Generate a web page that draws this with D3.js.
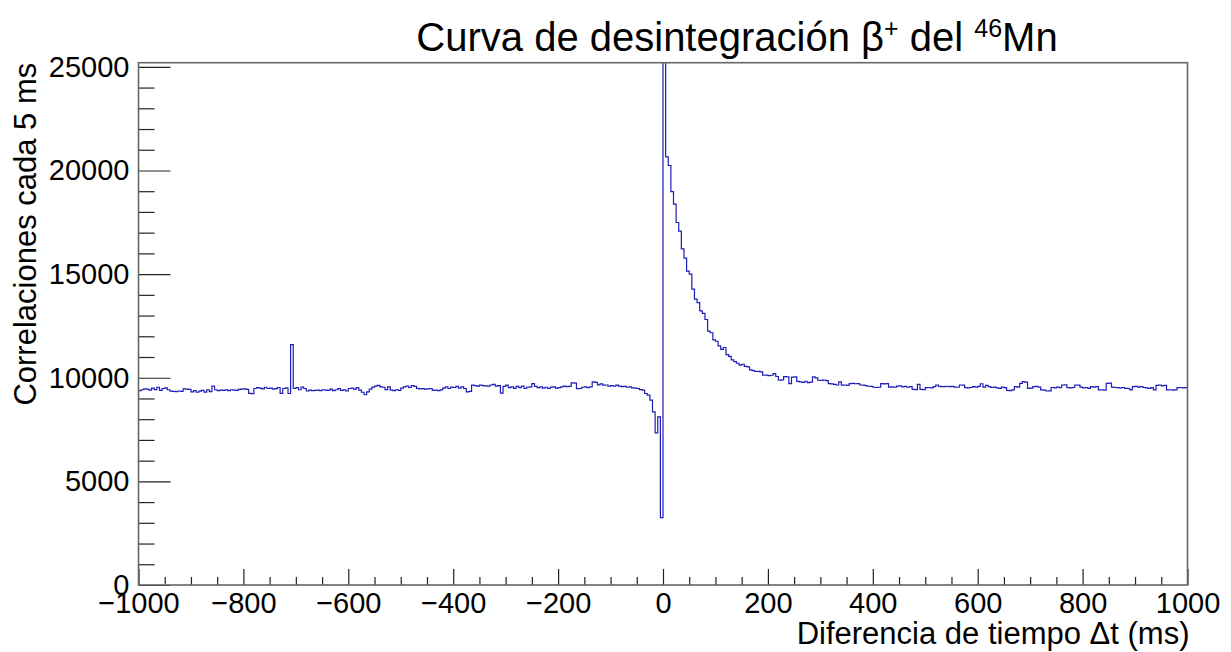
<!DOCTYPE html>
<html>
<head>
<meta charset="utf-8">
<script src="https://cdn.jsdelivr.net/npm/d3@7"></script>
<style>
  body { margin: 0; background: #fff; }
  svg { display: block; font-family: "Liberation Sans", Arial, sans-serif; }
  .axis text { font-size: 29px; fill: #000; }
  .axis path { display: none; }
  .axis line { stroke: #222; stroke-width: 1.2; }
  .label { font-size: 31px; fill: #000; }
</style>
</head>
<body>
<svg id="chart" width="1231" height="652"></svg>
<script>
/* histogram: 5 ms bins from -1000 to 1000 ms */
const binWidth = 5;
const xStart = -1000;

/* counts for bins -1000 .. -5 ms */
const countsBefore = [
  9380, 9420, 9460, 9450, 9400, 9500, 9430, 9540, 9390, 9480, 9510, 9420, 9350, 9340, 9330, 9360, 9340, 9460, 9450, 9440,
  9320, 9380, 9300, 9350, 9390, 9310, 9420, 9330, 9600, 9420, 9380, 9400, 9390, 9410, 9380, 9420, 9400, 9390, 9440, 9450,
  9460, 9440, 9250, 9230, 9480, 9520, 9500, 9460, 9540, 9480, 9500, 9450, 9470, 9530, 9250, 9480, 9510, 9240, 11600, 9480,
  9520, 9420, 9550, 9480, 9360, 9400, 9380, 9390, 9400, 9380, 9420, 9400, 9390, 9450, 9380, 9420, 9470, 9390, 9410, 9360,
  9480, 9500, 9450, 9520, 9400, 9300, 9180, 9320, 9450, 9550, 9600, 9630, 9560, 9540, 9430, 9560, 9400, 9380, 9420, 9390,
  9500, 9560, 9600, 9530, 9620, 9580, 9490, 9460, 9470, 9450, 9460, 9480, 9390, 9400, 9380, 9410, 9500, 9560, 9480, 9550,
  9530, 9580, 9500, 9560, 9480, 9320, 9340, 9640, 9620, 9600, 9640, 9620, 9610, 9600, 9650, 9680, 9600, 9620, 9260, 9580,
  9640, 9520, 9560, 9490, 9580, 9520, 9600, 9480, 9540, 9560, 9720, 9580, 9520, 9560, 9500, 9540, 9480, 9550, 9560, 9500,
  9520, 9560, 9600, 9570, 9580, 9750, 9740, 9470, 9480, 9540, 9560, 9520, 9560, 9800, 9780, 9660, 9700, 9640, 9650, 9600,
  9620, 9590, 9640, 9600, 9570, 9580, 9540, 9560, 9510, 9500, 9480, 9430, 9400, 9240, 9160, 8920, 8350, 7340, 8110, 3250
];

/* counts for bins 0 .. 995 ms */
const countsAfter = [
  26500, 20660, 20240, 18980, 18380, 17490, 17070, 16220, 15770, 15140, 15000, 14280, 13790, 13620, 13230, 13110, 12810, 12250, 12170, 11830,
  11760, 11540, 11370, 11460, 11120, 11030, 10860, 10780, 10700, 10610, 10650, 10550, 10520, 10380, 10340, 10300, 10310, 10280, 10120, 10130,
  10100, 10120, 10200, 10060, 9880, 9900, 10050, 10040, 9720, 10030, 10040, 9820, 9800, 9780, 9830, 9760, 9790, 10040, 9990, 9880,
  9870, 9890, 9860, 9720, 9700, 9680, 9650, 9800, 9640, 9650, 9630, 9720, 9730, 9710, 9720, 9650, 9640, 9620, 9590, 9580,
  9540, 9530, 9540, 9720, 9700, 9720, 9550, 9560, 9540, 9600, 9610, 9560, 9580, 9540, 9570, 9440, 9430, 9680, 9440, 9430,
  9520, 9530, 9510, 9570, 9650, 9580, 9570, 9570, 9590, 9570, 9580, 9550, 9540, 9650, 9640, 9520, 9510, 9530, 9570, 9550,
  9580, 9710, 9550, 9630, 9570, 9530, 9550, 9510, 9490, 9550, 9520, 9390, 9380, 9410, 9570, 9550, 9730, 9810, 9790, 9490,
  9500, 9570, 9580, 9550, 9410, 9400, 9360, 9370, 9530, 9510, 9550, 9520, 9650, 9660, 9520, 9510, 9530, 9650, 9640, 9550,
  9510, 9530, 9490, 9570, 9550, 9570, 9410, 9420, 9400, 9730, 9740, 9550, 9530, 9520, 9510, 9530, 9490, 9480, 9410, 9570,
  9580, 9550, 9570, 9530, 9510, 9490, 9520, 9410, 9630, 9650, 9610, 9630, 9410, 9420, 9400, 9410, 9520, 9530, 9510, 9520
];

const xMajorTicks = [-1000, -800, -600, -400, -200, 0, 200, 400, 600, 800, 1000];
const yMajorTicks = [0, 5000, 10000, 15000, 20000, 25000];

const svg = d3.select('#chart');

const plotLeft = 138.5, plotRight = 1187.5, plotTop = 62.7, plotBottom = 585;

const xScale = d3.scaleLinear().domain([-1000, 1000]).range([plotLeft, plotRight]);
const yScale = d3.scaleLinear().domain([0, 25200]).range([plotBottom, plotTop]);

const counts = countsBefore.concat(countsAfter);
const bins = counts.map((c, i) => ({ x0: xStart + i * binWidth, value: c }));
// closing point so the last bin gets its width
bins.push({ x0: xStart + counts.length * binWidth, value: counts[counts.length - 1] });

svg.append('defs').append('clipPath')
  .attr('id', 'frame-clip')
  .append('rect')
  .attr('x', plotLeft).attr('y', plotTop)
  .attr('width', plotRight - plotLeft).attr('height', plotBottom - plotTop);

/* histogram outline */
const line = d3.line()
  .x(d => xScale(d.x0))
  .y(d => yScale(d.value))
  .curve(d3.curveStepAfter);

svg.append('path')
  .datum(bins)
  .attr('clip-path', 'url(#frame-clip)')
  .attr('fill', 'none')
  .attr('stroke', '#1c1cb8')
  .attr('stroke-width', 1.2)
  .attr('d', line);

/* x axis: major + minor ticks pointing up */
const minorX = d3.range(-1000, 1001, 50).filter(v => xMajorTicks.indexOf(v) < 0);
svg.append('g')
  .attr('class', 'axis')
  .attr('transform', `translate(0,${plotBottom})`)
  .call(d3.axisBottom(xScale).tickValues(minorX).tickSize(-8).tickFormat(''));

svg.append('g')
  .attr('class', 'axis')
  .attr('transform', `translate(0,${plotBottom})`)
  .call(d3.axisBottom(xScale).tickValues(xMajorTicks).tickSizeInner(-16).tickPadding(7)
    .tickFormat(d => d3.format('d')(d)));

/* y axis */
const minorY = d3.range(0, 25001, 1000).filter(v => yMajorTicks.indexOf(v) < 0);
svg.append('g')
  .attr('class', 'axis')
  .attr('transform', `translate(${plotLeft},0)`)
  .call(d3.axisLeft(yScale).tickValues(minorY).tickSize(-16).tickFormat(''));

svg.append('g')
  .attr('class', 'axis')
  .attr('transform', `translate(${plotLeft},0)`)
  .call(d3.axisLeft(yScale).tickValues(yMajorTicks).tickSizeInner(-32).tickPadding(9).tickFormat(d3.format('d')));

/* frame */
svg.append('rect')
  .attr('x', plotLeft).attr('y', plotTop)
  .attr('width', plotRight - plotLeft).attr('height', plotBottom - plotTop)
  .attr('fill', 'none')
  .attr('stroke', '#666')
  .attr('stroke-width', 1.6);

/* title */
const title = svg.append('text')
  .attr('x', 737)
  .attr('y', 51)
  .attr('text-anchor', 'middle')
  .style('font-size', '40px');
title.append('tspan').text('Curva de desintegración β');
title.append('tspan').attr('dy', -14).style('font-size', '25px').text('+');
title.append('tspan').attr('dy', 14).text(' del ');
title.append('tspan').attr('dy', -14).style('font-size', '25px').text('46');
title.append('tspan').attr('dy', 14).text('Mn');

/* x-axis label */
svg.append('text')
  .attr('class', 'label')
  .attr('x', plotRight + 2)
  .attr('y', 644)
  .attr('text-anchor', 'end')
  .text('Diferencia de tiempo Δt (ms)');

/* y-axis label */
svg.append('text')
  .attr('class', 'label')
  .attr('transform', `translate(36,${plotTop}) rotate(-90)`)
  .attr('text-anchor', 'end')
  .text('Correlaciones cada 5 ms');
</script>
</body>
</html>
